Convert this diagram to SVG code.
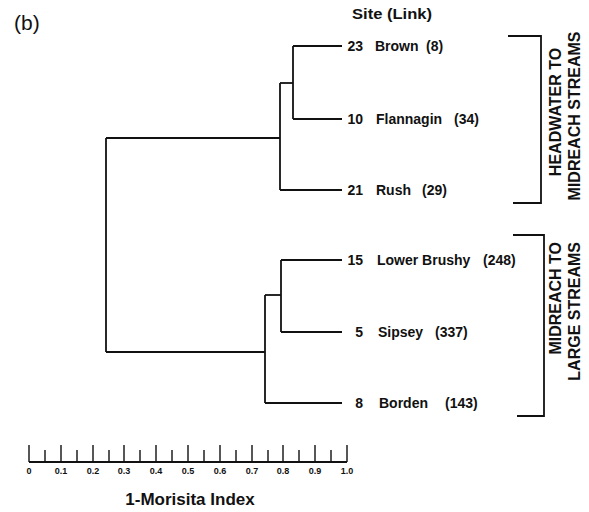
<svg xmlns="http://www.w3.org/2000/svg" width="589" height="512" viewBox="0 0 589 512">
<style>
text{font-family:"Liberation Sans",Arial,sans-serif;fill:#111}
.lbl{font-size:14px;font-weight:bold}
.grp{font-size:16px;font-weight:bold}
.ax{font-size:9px;font-weight:bold;text-anchor:middle}
.ln{fill:none;stroke:#111;stroke-width:1.8}
.tk{stroke:#111;stroke-width:1.4}
</style>
<rect width="589" height="512" fill="#fff"/>
<text x="14" y="30" style="font-size:21px">(b)</text>
<text x="352" y="19" style="font-size:14px;font-weight:bold" textLength="80" lengthAdjust="spacingAndGlyphs">Site (Link)</text>

<g id="connectors" class="ln">
<path d="M106,138 V352"/>
<path d="M106,138 H280"/>
<path d="M106,352 H265"/>
<path d="M280,83 V190"/>
<path d="M280,83 H293"/>
<path d="M293,46 V119"/>
<path d="M293,46 H342"/>
<path d="M293,119 H342"/>
<path d="M280,190 H342"/>
<path d="M265,295 V403"/>
<path d="M265,295 H281"/>
<path d="M281,260 V332"/>
<path d="M281,260 H342"/>
<path d="M281,332 H342"/>
<path d="M265,403 H342"/>
</g>

<g id="brown" class="lbl"><text x="363" y="51" text-anchor="end">23</text><text x="375" y="51">Brown</text><text x="426" y="51">(8)</text></g>
<g id="flannagin" class="lbl"><text x="363" y="124" text-anchor="end">10</text><text x="376" y="124">Flannagin</text><text x="454" y="124">(34)</text></g>
<g id="rush" class="lbl"><text x="363" y="195" text-anchor="end">21</text><text x="376" y="195">Rush</text><text x="422" y="195">(29)</text></g>
<g id="lowerbrushy" class="lbl"><text x="363" y="265" text-anchor="end">15</text><text x="377" y="265">Lower Brushy</text><text x="483" y="265">(248)</text></g>
<g id="sipsey" class="lbl"><text x="363" y="337" text-anchor="end">5</text><text x="378" y="337">Sipsey</text><text x="435" y="337">(337)</text></g>
<g id="borden" class="lbl"><text x="363" y="408" text-anchor="end">8</text><text x="379" y="408">Borden</text><text x="445" y="408">(143)</text></g>

<g id="group-headwater">
<path class="ln" d="M508,36 H541 V203 H513"/>
<text class="grp" transform="translate(561,112) rotate(-90)" text-anchor="middle">HEADWATER TO</text>
<text class="grp" transform="translate(580,116) rotate(-90)" text-anchor="middle">MIDREACH STREAMS</text>
</g>
<g id="group-midreach">
<path class="ln" d="M513,235 H544 V416 H517"/>
<text class="grp" transform="translate(561,242) rotate(-90)" text-anchor="end">MIDREACH TO</text>
<text class="grp" transform="translate(580,242) rotate(-90)" text-anchor="end">LARGE STREAMS</text>
</g>

<g id="axis">
<path class="ln" d="M29,462 H347"/>
<g class="tk">
<path d="M29,445V462M61,445V462M93,445V462M124,445V462M156,445V462M188,445V462M220,445V462M252,445V462M283,445V462M315,445V462M347,445V462"/>
<path d="M45,450V462M77,450V462M109,450V462M140,450V462M172,450V462M204,450V462M236,450V462M268,450V462M299,450V462M331,450V462"/>
</g>
<text class="ax" x="29" y="474">0</text>
<text class="ax" x="61" y="474">0.1</text>
<text class="ax" x="93" y="474">0.2</text>
<text class="ax" x="124" y="474">0.3</text>
<text class="ax" x="156" y="474">0.4</text>
<text class="ax" x="188" y="474">0.5</text>
<text class="ax" x="220" y="474">0.6</text>
<text class="ax" x="252" y="474">0.7</text>
<text class="ax" x="283" y="474">0.8</text>
<text class="ax" x="315" y="474">0.9</text>
<text class="ax" x="347" y="474">1.0</text>
<text x="190" y="505" text-anchor="middle" style="font-size:17px;font-weight:bold">1-Morisita Index</text>
</g>
</svg>
